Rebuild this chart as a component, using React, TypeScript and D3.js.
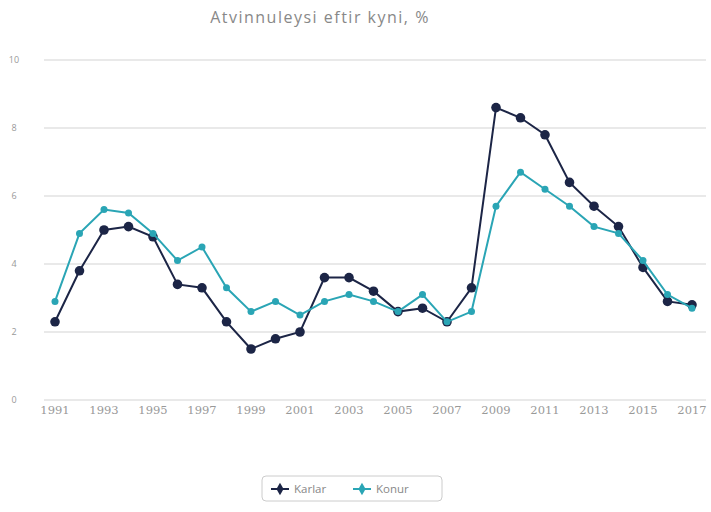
import React from 'react';
import * as d3 from 'd3';

const years = d3.range(1991, 2018);
const karlar = [2.3, 3.8, 5.0, 5.1, 4.8, 3.4, 3.3, 2.3, 1.5, 1.8, 2.0, 3.6, 3.6, 3.2, 2.6, 2.7, 2.3, 3.3, 8.6, 8.3, 7.8, 6.4, 5.7, 5.1, 3.9, 2.9, 2.8];
const konur = [2.9, 4.9, 5.6, 5.5, 4.9, 4.1, 4.5, 3.3, 2.6, 2.9, 2.5, 2.9, 3.1, 2.9, 2.6, 3.1, 2.3, 2.6, 5.7, 6.7, 6.2, 5.7, 5.1, 4.9, 4.1, 3.1, 2.7];
const yTicks = [0, 2, 4, 6, 8, 10];
const xTicks = years.filter((y) => (y - 1991) % 2 === 0);

const series = [
  {name: 'Karlar', values: karlar, color: '#1c2546', r: 4.8},
  {name: 'Konur', values: konur, color: '#2aa5b5', r: 3.5},
];

const W = 711;
const H = 512;
const font = '"Open Sans", sans-serif';

export default function App() {
  const x = d3.scaleLinear().domain([1991, 2017]).range([55, 692]);
  const y = d3.scaleLinear().domain([0, 10]).range([400, 60]);
  const line = d3.line<number>()
      .x((d, i) => x(years[i]))
      .y((d) => y(d));

  return (
    <svg width={W} height={H} style={{position: 'absolute', left: 0, top: 0, background: '#fff'}}>
      <text x={320} y={23} textAnchor="middle" fontFamily={font} fontSize={16} letterSpacing={1.5} fill="#888">
        Atvinnuleysi eftir kyni, %
      </text>
      {yTicks.map((t) => (
        <g key={t}>
          <line x1={44} x2={706} y1={y(t)} y2={y(t)} stroke="#e2e2e2" strokeWidth={1.5} />
          <text x={14} y={y(t) + 3} textAnchor="middle" fontFamily={font} fontSize={9} fill="#999">{t}</text>
        </g>
      ))}
      {xTicks.map((t) => (
        <text key={t} x={x(t)} y={414} textAnchor="middle" fontFamily="'DejaVu Serif', serif" fontSize={11.5} fill="#999">{t}</text>
      ))}
      {series.map((s) => (
        <g key={s.name}>
          <path d={line(s.values) || ''} fill="none" stroke={s.color} strokeWidth={2} />
          {s.values.map((v, i) => (
            <circle key={i} cx={x(years[i])} cy={y(v)} r={s.r} fill={s.color} />
          ))}
        </g>
      ))}
      <g transform="translate(262,476)">
        <rect x={0} y={0} width={180} height={25} rx={4} fill="#fff" stroke="#ccc" />
        {series.map((s, i) => {
          const ox = 9 + i * 82;
          return (
            <g key={s.name} transform={`translate(${ox},13)`}>
              <line x1={0} x2={18} y1={0} y2={0} stroke={s.color} strokeWidth={2} />
              <path d={d3.symbol(d3.symbolDiamond, 45)() || ''} transform="translate(9,0)" fill={s.color} />
              <text x={23} y={4} fontFamily={font} fontSize={11.5} fill="#888">{s.name}</text>
            </g>
          );
        })}
      </g>
    </svg>
  );
}
